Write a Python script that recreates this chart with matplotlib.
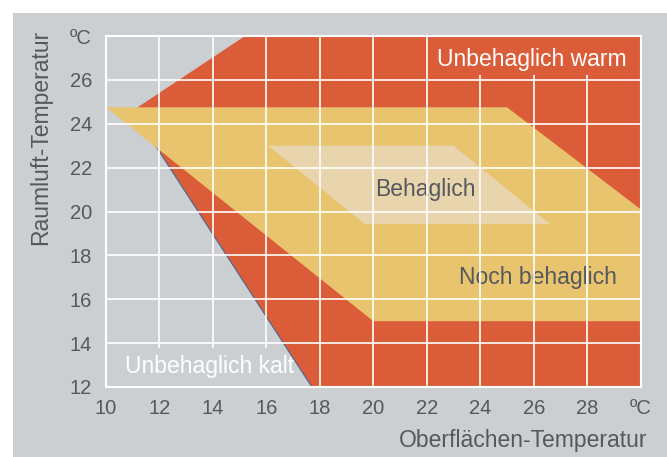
import matplotlib
matplotlib.use("Agg")
import matplotlib.pyplot as plt
from matplotlib.patches import Polygon, Rectangle

plt.rcParams['font.family'] = ['Liberation Sans', 'DejaVu Sans']

# ---- data (temperatures in degC) ----
x_ticks = [10, 12, 14, 16, 18, 20, 22, 24, 26, 28, 30]
x_tick_labels = ['10', '12', '14', '16', '18', '20', '22', '24', '26', '28', 'ºC']
y_ticks = [12, 14, 16, 18, 20, 22, 24, 26, 28]
y_tick_labels = ['12', '14', '16', '18', '20', '22', '24', '26', 'ºC']

# "Unbehaglich warm" / outer region (surface temp, room temp)
warm_x = [11.0, 15.2, 30.0, 30.0, 17.7]
warm_y = [24.6, 28.0, 28.0, 12.0, 12.0]
# "Noch behaglich" region
noch_x = [10.0, 25.0, 30.0, 30.0, 20.0]
noch_y = [24.75, 24.75, 20.1, 15.0, 15.0]
# "Behaglich" region
beh_x = [16.07, 23.0, 26.6, 19.68]
beh_y = [23.0, 23.0, 19.43, 19.43]

labels = ['Unbehaglich warm', 'Noch behaglich', 'Behaglich', 'Unbehaglich kalt']

RED = '#db5c38'
YEL = '#e8c46e'
BEI = '#e8d5ae'
GREY = '#cbcfd2'
TXT = '#55595e'

fig = plt.figure(figsize=(6.67, 4.57), dpi=100)
fig.patch.set_facecolor('white')
fig.patches.append(Rectangle((13/667, 0), 1, 444/457, transform=fig.transFigure,
                             facecolor=GREY, edgecolor='none', zorder=-10))

ax = fig.add_axes([106/667, 70/457, (640.7-106)/667, (387-36)/457])
ax.set_facecolor(GREY)
ax.set_xlim(10, 30)
ax.set_ylim(12, 28)

ax.add_patch(Polygon(list(zip(warm_x, warm_y)), closed=True, facecolor=RED, edgecolor='none', zorder=1))
ax.plot([warm_x[0], warm_x[-1]], [warm_y[0], warm_y[-1]], color='#4a6690', lw=0.8, zorder=1.1)
ax.add_patch(Polygon(list(zip(noch_x, noch_y)), closed=True, facecolor=YEL, edgecolor='none', zorder=1.2))
ax.add_patch(Polygon(list(zip(beh_x, beh_y)), closed=True, facecolor=BEI, edgecolor='none', zorder=1.3))

for xv in x_ticks[1:-1]:
    ax.axvline(xv, color='white', lw=1.2, zorder=3)
for yv in y_ticks[1:-1]:
    ax.axhline(yv, color='white', lw=1.2, zorder=3)

# label backgrounds that hide grid lines
ax.add_patch(Rectangle((22.15, 26.23), 30 - 22.15, 28 - 26.23, facecolor=RED, edgecolor='none', zorder=4))
ax.add_patch(Rectangle((10, 12), 16.55 - 10, 13.78 - 12, facecolor=GREY, edgecolor='none', zorder=4))

for s in ax.spines.values():
    s.set_color('white')
    s.set_linewidth(1.5)
    s.set_zorder(5)

ax.set_xticks(x_ticks)
ax.set_xticklabels(x_tick_labels)
ax.set_yticks(y_ticks)
ax.set_yticklabels(y_tick_labels)
ax.tick_params(axis='both', length=0, labelsize=14.5, labelcolor=TXT)
ax.tick_params(axis='x', pad=9)
ax.tick_params(axis='y', pad=10)

ax.text(25.93, 26.93, labels[0], color='white', fontsize=16.5, ha='center', va='center', zorder=6)
ax.text(26.15, 17.0, labels[1], color=TXT, fontsize=16.5, ha='center', va='center', zorder=2)
ax.text(21.96, 21.0, labels[2], color=TXT, fontsize=16.5, ha='center', va='center', zorder=2)
ax.text(13.87, 12.93, labels[3], color='white', fontsize=16.5, ha='center', va='center', zorder=6)

fig.text(647/667, 1 - 440.7/457, 'Oberflächen-Temperatur', color=TXT, fontsize=16.5,
         ha='right', va='center')
fig.text(41/667, 1 - 137/457, 'Raumluft-Temperatur', color=TXT, fontsize=16.5,
         ha='center', va='center', rotation=90)

fig.savefig('out.png', dpi=100)
